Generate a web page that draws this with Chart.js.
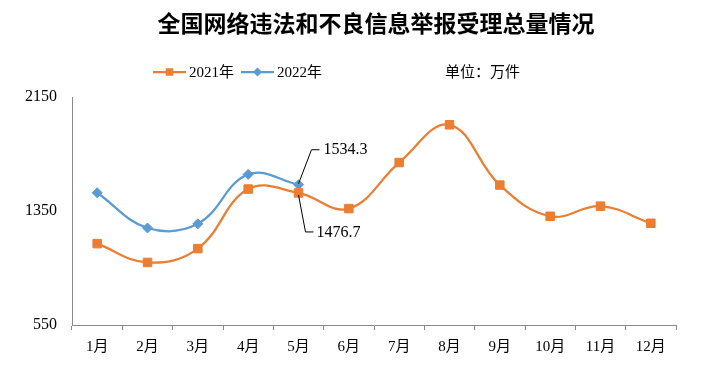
<!DOCTYPE html>
<html><head><meta charset="utf-8">
<script src="https://cdn.jsdelivr.net/npm/chart.js@4"></script>
<style>html,body{margin:0;padding:0;background:#fff}</style>
</head><body>
<canvas id="c" width="711" height="371" style="width:711px;height:371px;display:block"></canvas>
<script>
const months = ['1月','2月','3月','4月','5月','6月','7月','8月','9月','10月','11月','12月'];
const values2021 = [1121, 989, 1086, 1504, 1476.7, 1367, 1690, 1955, 1532, 1313, 1384, 1264];
const values2022 = [1478, 1231, 1260, 1607, 1534.3];
const seriesNames = ['2021年', '2022年'];
const yTicks = [550, 1350, 2150];
const titleText = '全国网络违法和不良信息举报受理总量情况';
const unitText = '单位：万件';
// data labels shown in the reference: [datasetIndex, pointIndex, text]
const shownLabels = [[1, 4, '1534.3'], [0, 4, '1476.7']];

const ORANGE = '#ED7D31';
const BLUE = '#5B9BD5';
const AXIS = '#898989';
const SERIF = '"Liberation Serif", "Noto Sans CJK SC", serif';

const overlay = {
  id: 'overlay',
  afterDraw(chart) {
    const ctx = chart.ctx;
    ctx.save();
    // title
    ctx.fillStyle = '#000';
    ctx.font = '600 23px "Noto Sans CJK SC", sans-serif';
    ctx.textAlign = 'center';
    ctx.textBaseline = 'middle';
    ctx.fillText(titleText, 376, 23);
    // legend
    const ly = 72;
    const items = [
      {x: 153, color: ORANGE, style: 'rect', text: seriesNames[0]},
      {x: 241, color: BLUE, style: 'rectRot', text: seriesNames[1]}
    ];
    ctx.font = '15px ' + SERIF;
    ctx.textAlign = 'left';
    items.forEach(it => {
      ctx.strokeStyle = it.color;
      ctx.lineWidth = 2.25;
      ctx.beginPath();
      ctx.moveTo(it.x, ly);
      ctx.lineTo(it.x + 33, ly);
      ctx.stroke();
      ctx.fillStyle = it.color;
      const cx = it.x + 16.5;
      if (it.style === 'rect') {
        ctx.fillRect(cx - 3.75, ly - 3.75, 7.5, 7.5);
      } else {
        ctx.beginPath();
        ctx.moveTo(cx, ly - 4.5); ctx.lineTo(cx + 4.5, ly); ctx.lineTo(cx, ly + 4.5); ctx.lineTo(cx - 4.5, ly);
        ctx.closePath(); ctx.fill();
      }
      ctx.fillStyle = '#000';
      ctx.fillText(it.text, it.x + 36, ly + 1);
    });
    // unit
    ctx.font = '15px "Noto Sans CJK SC", sans-serif';
    ctx.fillText(unitText, 445, 71);
    // data labels with leader lines
    ctx.font = '16px ' + SERIF;
    ctx.strokeStyle = '#000';
    ctx.lineWidth = 1;
    shownLabels.forEach(([di, pi, text]) => {
      const el = chart.getDatasetMeta(di).data[pi];
      const px = el.x, py = el.y;
      const up = di === 1;
      const ey = up ? py - 35 : py + 39;
      const ex = up ? px + 13 : px + 7;
      ctx.beginPath();
      ctx.moveTo(px, py + (up ? -1 : 2));
      ctx.lineTo(ex, ey);
      ctx.lineTo(ex + 8, ey);
      ctx.stroke();
      ctx.fillStyle = '#000';
      ctx.textBaseline = 'middle';
      ctx.fillText(text, ex + (up ? 12 : 11), ey + (up ? 0 : 1));
    });
    ctx.restore();
  }
};

new Chart(document.getElementById('c'), {
  type: 'line',
  data: {
    labels: months,
    datasets: [
      {label: seriesNames[0], data: values2021, borderColor: ORANGE, backgroundColor: ORANGE,
       borderWidth: 2.25, tension: 0.4, pointStyle: 'rect', pointRadius: 6, pointBorderWidth: 1,
       pointBorderColor: ORANGE, pointBackgroundColor: ORANGE, fill: false},
      {label: seriesNames[1], data: values2022, borderColor: BLUE, backgroundColor: BLUE,
       borderWidth: 2.25, tension: 0.4, pointStyle: 'rectRot', pointRadius: 5, pointBorderWidth: 1,
       pointBorderColor: BLUE, pointBackgroundColor: BLUE, fill: false}
    ]
  },
  options: {
    responsive: false,
    animation: false,
    devicePixelRatio: 1,
    layout: {padding: {top: 97, right: 35, left: 0, bottom: 0}},
    plugins: {legend: {display: false}, title: {display: false}, tooltip: {enabled: false}},
    scales: {
      x: {
        offset: true,
        grid: {display: true, offset: true, drawOnChartArea: false, drawTicks: true, tickLength: 5, color: AXIS},
        border: {display: true, color: AXIS, width: 1},
        ticks: {font: {family: SERIF, size: 15}, color: '#000', padding: 8, maxRotation: 0},
        afterFit(s) { s.height = 46; }
      },
      y: {
        min: 550, max: 2150,
        grid: {display: false, drawTicks: false},
        border: {display: true, color: AXIS, width: 1},
        ticks: {font: {family: SERIF, size: 16}, color: '#000', padding: 15,
                callback: v => String(v)},
        afterBuildTicks(s) { s.ticks = yTicks.map(v => ({value: v})); },
        afterFit(s) { s.width = 72; }
      }
    }
  },
  plugins: [overlay]
});
</script>
</body></html>
